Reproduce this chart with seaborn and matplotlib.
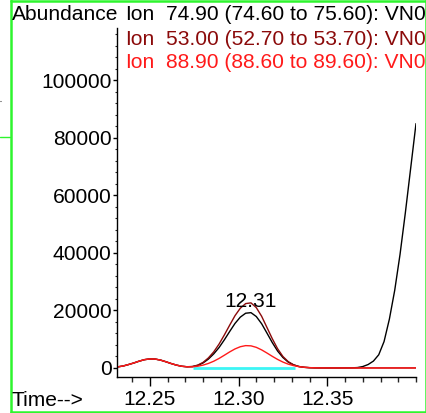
import matplotlib
matplotlib.use("Agg")
import matplotlib.pyplot as plt
from matplotlib.lines import Line2D
from matplotlib.ticker import MultipleLocator, FixedLocator
import seaborn as sns
import pandas as pd

# Retention time grid (minutes)
time = [12.232, 12.235, 12.238, 12.241, 12.244, 12.247, 12.250, 12.253, 12.256,
        12.259, 12.262, 12.265, 12.268, 12.271, 12.274, 12.277, 12.280, 12.283,
        12.286, 12.289, 12.292, 12.295, 12.298, 12.301, 12.304, 12.307, 12.310,
        12.313, 12.316, 12.319, 12.322, 12.325, 12.328, 12.331, 12.334, 12.337,
        12.340, 12.343, 12.346, 12.349, 12.352, 12.355, 12.358, 12.361, 12.364,
        12.367, 12.370, 12.373, 12.376, 12.379, 12.382, 12.385, 12.388, 12.391,
        12.394, 12.397, 12.400]

# Extracted ion chromatograms
ion_74_90 = [400, 700, 1200, 1750, 2380, 2900, 3150, 3100, 2750,
             2180, 1550, 1000, 600, 420, 480, 900, 1750, 3100,
             4900, 7100, 9800, 12700, 15500, 17700, 19050, 19250, 17900,
             15400, 12150, 8850, 5900, 3650, 2050, 1080, 520, 240,
             110, 60, 40, 30, 20, 20, 30, 50, 60,
             150, 500, 1200, 2400, 4600, 9200, 17000, 27000, 39500,
             54000, 69500, 85000]
ion_53_00 = [400, 700, 1200, 1750, 2380, 2900, 3150, 3100, 2750,
             2180, 1550, 1000, 600, 430, 520, 1000, 1950, 3500,
             5600, 8300, 11500, 14900, 18200, 20800, 22400, 22650, 21000,
             18000, 14100, 10200, 6700, 4000, 2200, 1100, 500, 220,
             100, 50, 30, 20, 20, 20, 20, 20, 20,
             20, 20, 20, 20, 20, 20, 20, 20, 20,
             20, 20, 20]
ion_88_90 = [400, 700, 1200, 1750, 2380, 2900, 3150, 3100, 2750,
             2180, 1550, 1000, 600, 420, 400, 620, 1000, 1580,
             2350, 3320, 4440, 5590, 6630, 7400, 7780, 7700, 7180,
             6300, 5210, 4060, 2980, 2060, 1340, 820, 470, 260,
             130, 60, 30, 20, 10, 10, 10, 10, 10,
             10, 10, 10, 10, 10, 10, 10, 10, 10,
             10, 10, 10]

ion_mass = [74.90, 53.00, 88.90]
ion_low = [74.60, 52.70, 88.60]
ion_high = [75.60, 53.70, 89.60]
ion_colors = ["#000000", "#8b0a0a", "#ff1a1a"]
data_file = "VN0"

# Integration baseline of the labelled peak
baseline_time = [12.2745, 12.332]
baseline_abund = [0, 0]

peak_rt = 12.307
peak_abund = 22650

y_major = [0, 20000, 40000, 60000, 80000, 100000]
x_major = [12.25, 12.30, 12.35]

series = [ion_74_90, ion_53_00, ion_88_90]
names = [f"{m:.2f}" for m in ion_mass]
df = pd.concat(
    [pd.DataFrame({"time": time, "abundance": s, "ion": n}) for s, n in zip(series, names)],
    ignore_index=True,
)

sns.set_style("white")
plt.rcParams["font.family"] = ["Liberation Sans", "DejaVu Sans"]
FS = 15.1

W, H = 427, 413
fig = plt.figure(figsize=(W / 100, H / 100), dpi=100)
fig.patch.set_facecolor("white")

def fx(px):
    return px / W

def fy(py):
    return 1 - py / H

ax = fig.add_axes([fx(117), fy(376.5), fx(416) - fx(117), fy(28) - fy(376.5)])
ax.set_facecolor("white")

ax.plot(baseline_time, baseline_abund, color="#3cf5f5", lw=2.0, zorder=1,
        solid_capstyle="butt")
sns.lineplot(data=df, x="time", y="abundance", hue="ion", hue_order=names,
             palette=dict(zip(names, ion_colors)), estimator=None, sort=False,
             legend=False, lw=1.0, ax=ax, zorder=2)

ax.set_xlim(12.2315, 12.4)
ax.set_ylim(-2960, 118260)
ax.set_xlabel("")
ax.set_ylabel("")

ax.xaxis.set_major_locator(FixedLocator(x_major))
ax.xaxis.set_minor_locator(MultipleLocator(0.01))
ax.set_xticklabels([f"{v:.2f}" for v in x_major])
ax.yaxis.set_major_locator(FixedLocator(y_major))
ax.yaxis.set_minor_locator(MultipleLocator(4000))
ax.set_yticklabels([f"{v:d}" for v in y_major])

ax.tick_params(axis="x", which="major", direction="out", length=6.5, width=1.0,
               pad=3, labelsize=FS, colors="black", bottom=True)
ax.tick_params(axis="x", which="minor", direction="out", length=3.6, width=1.0,
               bottom=True)
ax.tick_params(axis="y", which="major", direction="out", length=3.0, width=1.0,
               pad=0.8, labelsize=FS, colors="black", left=True)
ax.tick_params(axis="y", which="minor", direction="out", length=1.5, width=0.8,
               left=True)

for side in ("top", "right"):
    ax.spines[side].set_visible(False)
for side in ("left", "bottom"):
    ax.spines[side].set_color("black")
    ax.spines[side].set_linewidth(1.0)

ax.annotate(f"{peak_rt:.2f}", xy=(peak_rt, peak_abund), xytext=(0, 1),
            textcoords="offset points", ha="center", va="center",
            fontsize=FS, color="black", zorder=5)

# Header: axis title and ion list
fig.text(fx(12), fy(15), "Abundance", fontsize=FS, ha="left", va="center", color="black")
row_y = [15, 39.5, 63]
for m, lo, hi, c, ry in zip(ion_mass, ion_low, ion_high, ion_colors, row_y):
    fig.text(fx(125), fy(ry), "Ion", fontsize=FS, ha="left", va="center", color=c)
    fig.text(fx(166), fy(ry), f"{m:.2f} ({lo:.2f} to {hi:.2f}): {data_file}",
             fontsize=FS, ha="left", va="center", color=c)
fig.text(fx(12), fy(400), "Time-->", fontsize=FS, ha="left", va="center", color="black")

# Window frame
green = "#2ef52e"
frame = [((11.5, 11.5), (0, 413)), ((11.5, 427), (0.8, 0.8)), ((425.8, 425.8), (0, 413)),
         ((11.5, 427), (411.5, 411.5))]
for (x0, x1), (y0, y1) in frame:
    fig.add_artist(Line2D([fx(x0), fx(x1)], [fy(y0), fy(y1)], color=green, lw=1.8,
                          transform=fig.transFigure))
fig.add_artist(Line2D([fx(0), fx(10.5)], [fy(136.7), fy(136.7)], color=green, lw=1.0,
                      transform=fig.transFigure))
fig.add_artist(Line2D([fx(0), fx(1.2)], [fy(101), fy(101)], color="#888888", lw=0.8,
                      transform=fig.transFigure))

fig.savefig("out.png", dpi=100, facecolor="white")
